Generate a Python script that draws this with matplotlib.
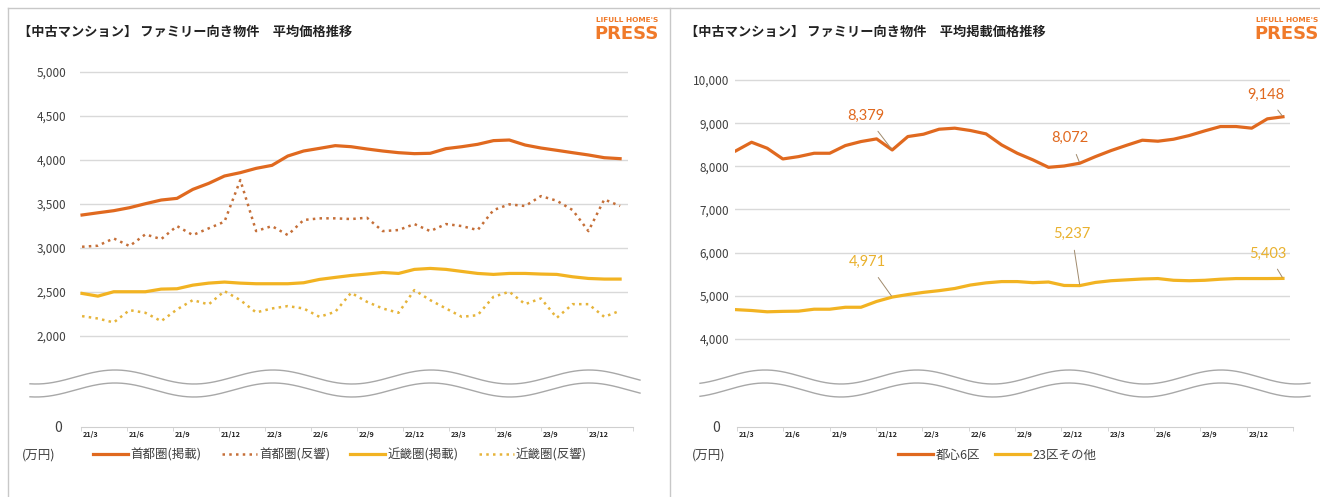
import numpy as np
import matplotlib
matplotlib.use('Agg')
import matplotlib.pyplot as plt

plt.rcParams['font.family'] = ['Noto Sans CJK JP', 'DejaVu Sans']

# left chart (万円): 首都圏 / 近畿圏, monthly
shuto_keisai = [3375, 3400, 3424, 3458, 3503, 3545, 3564, 3666, 3734, 3818,
                3856, 3905, 3939, 4045, 4102, 4132, 4163, 4151, 4125, 4102,
                4083, 4072, 4076, 4129, 4151, 4178, 4220, 4227, 4170, 4136,
                4110, 4083, 4057, 4026, 4015]
shuto_hankyo = [3014, 3026, 3109, 3022, 3155, 3101, 3249, 3147, 3223, 3299,
                3772, 3192, 3249, 3147, 3318, 3337, 3337, 3329, 3344, 3192,
                3204, 3272, 3192, 3272, 3249, 3204, 3431, 3496, 3477, 3590,
                3537, 3431, 3192, 3552, 3477]
kinki_keisai = [2484, 2453, 2503, 2503, 2503, 2533, 2537, 2578, 2601, 2613,
                2601, 2594, 2594, 2594, 2605, 2643, 2666, 2688, 2704, 2722,
                2711, 2757, 2768, 2757, 2734, 2711, 2700, 2711, 2711, 2704,
                2700, 2673, 2654, 2647, 2647]
kinki_hankyo = [2226, 2199, 2154, 2294, 2264, 2169, 2302, 2408, 2359, 2510,
                2408, 2268, 2313, 2340, 2313, 2218, 2275, 2491, 2389, 2313,
                2264, 2522, 2408, 2313, 2218, 2237, 2446, 2503, 2362, 2427,
                2207, 2362, 2362, 2218, 2287]

# right chart (万円): 都心6区 / 23区その他
toshin6 = [8360, 8558, 8419, 8171, 8225, 8303, 8303, 8481, 8574, 8636,
           8379, 8690, 8744, 8860, 8884, 8830, 8752, 8496, 8303, 8150,
           7977, 8008, 8072, 8225, 8365, 8488, 8605, 8582, 8628, 8713,
           8822, 8922, 8922, 8884, 9100, 9148]
ku23_other = [4680, 4660, 4630, 4640, 4645, 4690, 4690, 4735, 4735, 4870,
              4971, 5030, 5080, 5120, 5170, 5250, 5300, 5330, 5330, 5305,
              5320, 5240, 5237, 5310, 5350, 5370, 5390, 5400, 5360, 5350,
              5360, 5385, 5400, 5400, 5400, 5403]

# labelled points on the right chart: (series, index)
marks = [('toshin6', 10), ('toshin6', 22), ('toshin6', 35),
         ('ku23', 10), ('ku23', 22), ('ku23', 35)]

months = ['21/3', '21/6', '21/9', '21/12', '22/3', '22/6',
          '22/9', '22/12', '23/3', '23/6', '23/9', '23/12']

ORANGE = '#E0691F'
ORANGE_DOT = '#C56F38'
YELLOW = '#F2B322'
YELLOW_DOT = '#E6B43A'
GRID = '#d9d9d9'
TXT = '#404040'

W, H = 1320, 497
fig = plt.figure(figsize=(W / 100, H / 100), dpi=100)


def px_axes(x0, y0, x1, y1):
    return fig.add_axes([x0 / W, 1 - y1 / H, (x1 - x0) / W, (y1 - y0) / H])


# decorations: frame, titles, logo, broken-axis waves
deco = px_axes(0, 0, W, H)
deco.set_xlim(0, W)
deco.set_ylim(H, 0)
deco.axis('off')
deco.plot([8, W], [8, 8], color='#c8c8c8', lw=1)
deco.plot([8, 8], [8, H], color='#c8c8c8', lw=1)
deco.plot([670, 670], [8, H], color='#c8c8c8', lw=1)

titles = ['【中古マンション】 ファミリー向き物件　平均価格推移',
          '【中古マンション】 ファミリー向き物件　平均掲載価格推移']
for x0, t in zip([18, 685], titles):
    deco.text(x0, 32, t, fontsize=9.5, fontweight='bold', color='#222222',
              ha='left', va='center')
for xr in [658, 1318]:
    deco.text(xr, 20, "LIFULL HOME'S", fontsize=5.3, fontweight='bold',
              color='#F07A2A', ha='right', va='center', family='DejaVu Sans')
    deco.text(xr + 1, 34, 'PRESS', fontsize=13, fontweight='bold',
              color='#F07A2A', ha='right', va='center', family='DejaVu Sans')

for xa, xb, peak, period in [(30, 640, 115, 158), (700, 1310, 765, 152)]:
    xs = np.linspace(xa, xb, 400)
    wv = -7 * np.cos(2 * np.pi * (xs - peak) / period)
    deco.plot(xs, 377 + wv, color='#a8a8a8', lw=1)
    deco.plot(xs, 390 + wv, color='#a8a8a8', lw=1)


def style_top(ax, ticks, pad):
    ax.set_yticks(ticks)
    ax.set_yticklabels([f'{t:,}' for t in ticks])
    ax.grid(axis='y', color=GRID, lw=1)
    ax.set_axisbelow(True)
    for s in ax.spines.values():
        s.set_visible(False)
    ax.set_xticks([])
    ax.tick_params(length=0, labelsize=8.5, colors=TXT, pad=pad)
    ax.patch.set_alpha(0)


def style_bottom(ax):
    ax.set_xlim(0, 12)
    ax.set_ylim(0, 1)
    for k in ['top', 'right', 'left']:
        ax.spines[k].set_visible(False)
    ax.spines['bottom'].set_color('#cfcfcf')
    ax.set_yticks([0])
    ax.set_yticklabels(['0'])
    ax.set_xticks(np.arange(13), minor=True)
    ax.set_xticks(np.arange(12) + 0.04)
    ax.set_xticklabels(months, fontsize=5.2, fontweight='bold', color='#222222')
    for lbl in ax.get_xticklabels():
        lbl.set_ha('left')
    ax.tick_params(axis='x', which='major', length=0, pad=3)
    ax.tick_params(axis='x', which='minor', length=3, color='#cfcfcf')
    ax.tick_params(axis='y', length=0, labelsize=10, colors=TXT, pad=14)
    ax.patch.set_alpha(0)


# ---- left chart ----
axL = px_axes(80, 60, 628, 345)
x = np.arange(len(shuto_keisai))
axL.set_xlim(-0.13, 34.5)
axL.set_ylim(1898, 5136)
l1, = axL.plot(x, shuto_keisai, color=ORANGE, lw=2.3)
l2, = axL.plot(x, shuto_hankyo, color=ORANGE_DOT, lw=1.8, ls=(0, (1, 1.7)))
l3, = axL.plot(x, kinki_keisai, color=YELLOW, lw=2.3)
l4, = axL.plot(x, kinki_hankyo, color=YELLOW_DOT, lw=1.8, ls=(0, (1, 1.7)))
style_top(axL, [2000, 2500, 3000, 3500, 4000, 4500, 5000], 10)

bL = px_axes(81, 410, 633, 427)
style_bottom(bL)

fig.legend([l1, l2, l3, l4], ['首都圏(掲載)', '首都圏(反響)', '近畿圏(掲載)', '近畿圏(反響)'],
           loc='center', bbox_to_anchor=(340 / W, 1 - 455 / H), ncol=4,
           frameon=False, fontsize=9, handlelength=2.8, columnspacing=1.6,
           handletextpad=0.2, labelcolor=TXT)
deco.text(22, 455, '(万円)', fontsize=9, color=TXT, ha='left', va='center')

# ---- right chart ----
axR = px_axes(735, 68, 1290, 350)
xr = np.arange(len(toshin6))
axR.set_xlim(-0.06, 35.45)
axR.set_ylim(3745, 10278)
r1, = axR.plot(xr, toshin6, color=ORANGE, lw=2.3)
r2, = axR.plot(xr, ku23_other, color=YELLOW, lw=2.3)
style_top(axR, [4000, 5000, 6000, 7000, 8000, 9000, 10000], 4)

offsets = {('toshin6', 10): (-26, 34), ('toshin6', 22): (-10, 25), ('toshin6', 35): (-17, 22),
           ('ku23', 10): (-25, 35), ('ku23', 22): (-8, 52), ('ku23', 35): (-15, 25)}
for name, i in marks:
    ys = toshin6 if name == 'toshin6' else ku23_other
    c = ORANGE if name == 'toshin6' else '#E9B12E'
    axR.annotate(f'{ys[i]:,}', xy=(i, ys[i]), xytext=offsets[(name, i)],
                 textcoords='offset pixels', ha='center', va='center',
                 fontsize=10.5, color=c, family='Lato',
                 arrowprops=dict(arrowstyle='-', color='#a08a6c', lw=0.7,
                                 shrinkA=5, shrinkB=1))

bR = px_axes(737, 410, 1293, 427)
style_bottom(bR)
bR.tick_params(axis='y', pad=12)

fig.legend([r1, r2], ['都心6区', '23区その他'], loc='center',
           bbox_to_anchor=(997 / W, 1 - 455 / H), ncol=2, frameon=False,
           fontsize=9, handlelength=2.8, columnspacing=1.2,
           handletextpad=0.2, labelcolor=TXT)
deco.text(692, 455, '(万円)', fontsize=9, color=TXT, ha='left', va='center')

fig.savefig('out.png', dpi=100, facecolor='white')
